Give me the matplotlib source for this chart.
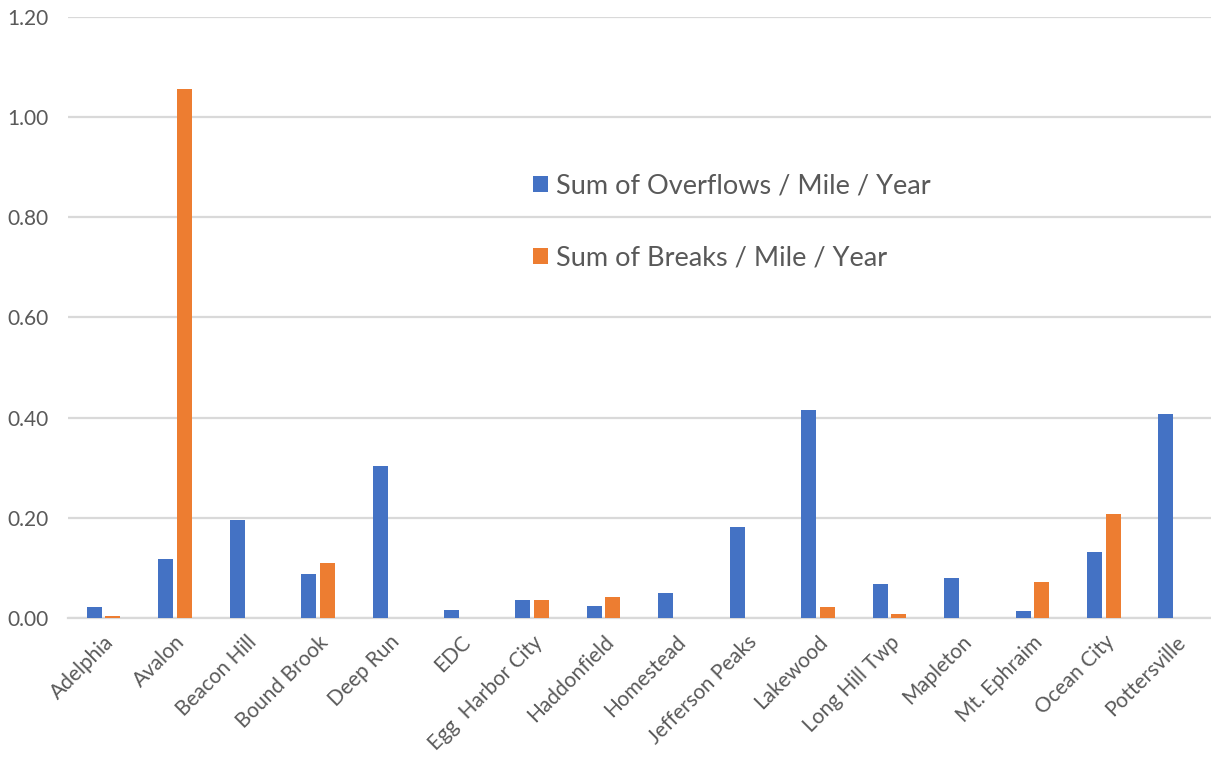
import matplotlib.pyplot as plt
import numpy as np

# Data
towns = ["Adelphia", "Avalon", "Beacon Hill", "Bound Brook", "Deep Run", "EDC",
         "Egg  Harbor City", "Haddonfield", "Homestead", "Jefferson Peaks",
         "Lakewood", "Long Hill Twp", "Mapleton", "Mt. Ephraim", "Ocean City",
         "Pottersville"]
overflows = [0.022, 0.118, 0.196, 0.088, 0.304, 0.016, 0.036, 0.024, 0.050,
             0.182, 0.415, 0.068, 0.080, 0.014, 0.132, 0.407]
breaks = [0.005, 1.056, 0.0, 0.110, 0.0, 0.0, 0.036, 0.042, 0.0,
          0.0, 0.022, 0.008, 0.0, 0.072, 0.208, 0.0]
yticks = [0.0, 0.2, 0.4, 0.6, 0.8, 1.0, 1.2]

BLUE = "#4472C4"
ORANGE = "#ED7D31"
GREY = "#595959"

plt.rcParams['font.family'] = ['Lato', 'DejaVu Sans']

fig = plt.figure(figsize=(12.11, 7.63), dpi=100)
ax = fig.add_axes([0.056, 0.19, 0.944, 0.788])

x = np.arange(len(towns))
w = 0.21
ax.bar(x - 0.13, overflows, w, color=BLUE, label="Sum of Overflows / Mile / Year", zorder=3)
ax.bar(x + 0.13, breaks, w, color=ORANGE, label="Sum of Breaks / Mile / Year", zorder=3)

ax.set_xlim(-0.5, len(towns) - 0.5)
ax.set_ylim(0, 1.2)
ax.set_yticks(yticks)
ax.set_yticklabels([f"{v:.2f}" for v in yticks], fontsize=15, color=GREY)
ax.set_xticks(x)
ax.set_xticklabels(towns, rotation=45, ha="right", rotation_mode="anchor",
                   fontsize=15, color=GREY)
ax.tick_params(axis="both", length=0)
ax.tick_params(axis="y", pad=14)
ax.tick_params(axis="x", pad=10)

ax.grid(axis="y", color="#D9D9D9", linewidth=1.6, zorder=0)
for s in ["top", "right", "left"]:
    ax.spines[s].set_visible(False)
ax.spines["bottom"].set_color("#D9D9D9")
ax.spines["bottom"].set_linewidth(1.6)

ax.legend(loc="upper left", bbox_to_anchor=(0.386, 0.78), frameon=False,
          fontsize=19.5, labelcolor=GREY, handlelength=0.55, handleheight=0.55,
          handletextpad=0.3, labelspacing=1.75)

fig.savefig("out.png", dpi=100)
